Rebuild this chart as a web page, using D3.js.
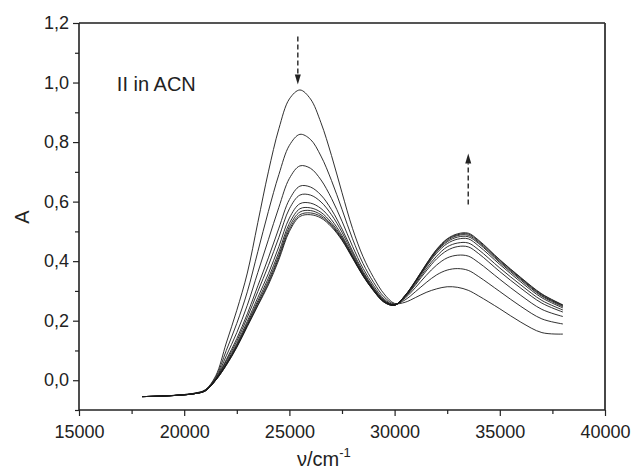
<!DOCTYPE html>
<html>
<head>
<meta charset="utf-8">
<script src="https://cdn.jsdelivr.net/npm/d3@7/dist/d3.min.js"></script>
<style>
  body { margin: 0; background: #fff; }
  svg { display: block; font-family: "Liberation Sans", Arial, sans-serif; }
</style>
</head>
<body>
<script>
const WIDTH = 631;
const HEIGHT = 472;
const LEFT = 79;
const RIGHT = 605;
const TOP = 23;
const BOTTOM = 410;

// wavenumber grid (cm-1) shared by every spectrum
const wavenumbers = [
  18000, 19000, 20000, 20500, 21000, 21500, 22000, 22500, 23000, 23500,
  24000, 24500, 25000, 25500, 26000, 26500, 27000, 27500, 28000, 28500,
  29000, 29500, 30000, 30500, 31000, 31500, 32000, 32500, 33000, 33500,
  34000, 35000, 36000, 37000, 38000
];

const run1 = [-0.055, -0.053, -0.048, -0.043, -0.032, 0.015, 0.125, 0.235, 0.360, 0.530,
  0.700, 0.845, 0.945, 0.975, 0.945, 0.865, 0.755, 0.630, 0.510, 0.415,
  0.345, 0.290, 0.258, 0.262, 0.278, 0.295, 0.307, 0.314, 0.312, 0.302,
  0.283, 0.240, 0.195, 0.160, 0.155];
const run2 = [-0.055, -0.053, -0.048, -0.044, -0.033, 0.010, 0.100, 0.191, 0.297, 0.432,
  0.567, 0.691, 0.789, 0.826, 0.809, 0.753, 0.671, 0.574, 0.475, 0.392,
  0.329, 0.280, 0.256, 0.270, 0.298, 0.328, 0.354, 0.370, 0.375, 0.369,
  0.348, 0.298, 0.248, 0.206, 0.189];
const run3 = [-0.055, -0.053, -0.049, -0.044, -0.034, 0.006, 0.082, 0.160, 0.252, 0.362,
  0.472, 0.581, 0.678, 0.720, 0.712, 0.673, 0.611, 0.534, 0.450, 0.376,
  0.318, 0.273, 0.254, 0.276, 0.312, 0.352, 0.387, 0.411, 0.420, 0.417,
  0.395, 0.339, 0.285, 0.238, 0.214];
const run4 = [-0.055, -0.053, -0.049, -0.045, -0.035, 0.004, 0.069, 0.140, 0.223, 0.317,
  0.411, 0.511, 0.607, 0.652, 0.649, 0.622, 0.573, 0.508, 0.434, 0.366,
  0.311, 0.269, 0.253, 0.279, 0.321, 0.367, 0.408, 0.436, 0.449, 0.448,
  0.425, 0.365, 0.309, 0.259, 0.229];
const run5 = [-0.055, -0.053, -0.049, -0.045, -0.035, 0.003, 0.064, 0.131, 0.211, 0.298,
  0.385, 0.480, 0.576, 0.622, 0.622, 0.599, 0.556, 0.497, 0.427, 0.361,
  0.308, 0.267, 0.253, 0.281, 0.325, 0.374, 0.417, 0.448, 0.461, 0.461,
  0.438, 0.377, 0.320, 0.268, 0.236];
const run6 = [-0.055, -0.053, -0.049, -0.045, -0.035, 0.002, 0.058, 0.123, 0.198, 0.278,
  0.358, 0.449, 0.545, 0.593, 0.595, 0.577, 0.539, 0.486, 0.420, 0.357,
  0.305, 0.265, 0.253, 0.283, 0.329, 0.381, 0.427, 0.459, 0.474, 0.475,
  0.451, 0.389, 0.330, 0.277, 0.243];
const run7 = [-0.055, -0.053, -0.049, -0.045, -0.036, 0.001, 0.055, 0.118, 0.191, 0.267,
  0.343, 0.431, 0.527, 0.576, 0.579, 0.564, 0.529, 0.480, 0.416, 0.354,
  0.303, 0.264, 0.252, 0.284, 0.332, 0.384, 0.432, 0.465, 0.481, 0.482,
  0.459, 0.395, 0.336, 0.282, 0.247];
const run8 = [-0.055, -0.053, -0.049, -0.045, -0.036, 0.001, 0.053, 0.114, 0.186, 0.260,
  0.333, 0.420, 0.516, 0.565, 0.570, 0.556, 0.523, 0.476, 0.414, 0.352,
  0.302, 0.263, 0.252, 0.284, 0.333, 0.387, 0.435, 0.469, 0.486, 0.487,
  0.463, 0.399, 0.340, 0.285, 0.250];
const run9 = [-0.055, -0.053, -0.049, -0.045, -0.036, 0.000, 0.051, 0.112, 0.183, 0.254,
  0.326, 0.412, 0.507, 0.556, 0.562, 0.550, 0.519, 0.472, 0.412, 0.351,
  0.301, 0.262, 0.252, 0.285, 0.334, 0.389, 0.438, 0.473, 0.489, 0.491,
  0.467, 0.403, 0.343, 0.288, 0.252];
const run10 = [-0.055, -0.053, -0.049, -0.045, -0.036, 0.000, 0.050, 0.110, 0.180, 0.250,
  0.320, 0.405, 0.500, 0.550, 0.556, 0.545, 0.515, 0.470, 0.410, 0.350,
  0.300, 0.262, 0.252, 0.285, 0.335, 0.390, 0.440, 0.475, 0.492, 0.494,
  0.470, 0.405, 0.345, 0.290, 0.253];

const runs = [run1, run2, run3, run4, run5, run6, run7, run8, run9, run10];

const xMajor = [15000, 20000, 25000, 30000, 35000, 40000];
const xMinor = [17500, 22500, 27500, 32500, 37500];
const yMajor = [0, 0.2, 0.4, 0.6, 0.8, 1.0, 1.2];
const yMinor = [-0.1, 0.1, 0.3, 0.5, 0.7, 0.9, 1.1];

// dashed arrows: position in cm-1, start and tip in absorbance
const arrowX = [25400, 33500];
const arrowFrom = [1.155, 0.59];
const arrowTo = [0.993, 0.762];

const svg = d3.select("body").append("svg")
  .attr("width", WIDTH)
  .attr("height", HEIGHT);

const x = d3.scaleLinear().domain([15000, 40000]).range([LEFT, RIGHT]);
const y = d3.scaleLinear().domain([-0.1, 1.2]).range([BOTTOM, TOP]);

const comma = (d) => d.toFixed(1).replace(".", ",");

const styleAxis = (g) => {
  g.select(".domain").remove();
  g.selectAll(".tick line").attr("stroke", "#222").attr("stroke-width", 1.2);
  g.selectAll(".tick text")
    .attr("fill", "#222")
    .attr("font-size", "18px")
    .attr("font-family", "Liberation Sans, Arial, sans-serif");
};

svg.append("g")
  .attr("transform", `translate(0,${BOTTOM})`)
  .call(d3.axisBottom(x).tickValues(xMajor).tickSize(6).tickPadding(9).tickFormat(d3.format("d")))
  .call(styleAxis);
svg.append("g")
  .attr("transform", `translate(0,${BOTTOM})`)
  .call(d3.axisBottom(x).tickValues(xMinor).tickSize(4).tickFormat(""))
  .call(styleAxis);
svg.append("g")
  .attr("transform", `translate(${LEFT},0)`)
  .call(d3.axisLeft(y).tickValues(yMajor).tickSize(6).tickPadding(4).tickFormat(comma))
  .call(styleAxis);
svg.append("g")
  .attr("transform", `translate(${LEFT},0)`)
  .call(d3.axisLeft(y).tickValues(yMinor).tickSize(4).tickFormat(""))
  .call(styleAxis);

// frame: top and right a bit lighter, like the scan
svg.append("line")
  .attr("x1", LEFT).attr("x2", RIGHT).attr("y1", TOP).attr("y2", TOP)
  .attr("stroke", "#555").attr("stroke-width", 2);
svg.append("line")
  .attr("x1", RIGHT).attr("x2", RIGHT).attr("y1", TOP).attr("y2", BOTTOM)
  .attr("stroke", "#333").attr("stroke-width", 1.8);
svg.append("line")
  .attr("x1", LEFT).attr("x2", LEFT).attr("y1", TOP).attr("y2", BOTTOM)
  .attr("stroke", "#222").attr("stroke-width", 1.6);
svg.append("line")
  .attr("x1", LEFT).attr("x2", RIGHT).attr("y1", BOTTOM).attr("y2", BOTTOM)
  .attr("stroke", "#222").attr("stroke-width", 1.6);

const line = d3.line()
  .x((d, i) => x(wavenumbers[i]))
  .y((d) => y(d))
  .curve(d3.curveCatmullRom.alpha(0.5));

svg.append("g")
  .selectAll("path")
  .data(runs)
  .join("path")
  .attr("d", line)
  .attr("fill", "none")
  .attr("stroke", "#1a1a1a")
  .attr("stroke-width", 0.9);

// arrows
const arrows = arrowX.map((v, i) => ({ v, from: arrowFrom[i], to: arrowTo[i] }));
const HEAD = 10;

svg.append("g")
  .selectAll("line")
  .data(arrows)
  .join("line")
  .attr("x1", (d) => x(d.v))
  .attr("x2", (d) => x(d.v))
  .attr("y1", (d) => y(d.from))
  .attr("y2", (d) => y(d.to) + (y(d.from) < y(d.to) ? -HEAD : HEAD))
  .attr("stroke", "#333")
  .attr("stroke-width", 1.5)
  .attr("stroke-dasharray", "5,3");

svg.append("g")
  .selectAll("path")
  .data(arrows)
  .join("path")
  .attr("d", (d) => {
    const tx = x(d.v);
    const ty = y(d.to);
    const dir = y(d.from) < y(d.to) ? -1 : 1;
    return `M${tx},${ty}L${tx - 3},${ty + dir * HEAD}L${tx + 3},${ty + dir * HEAD}Z`;
  })
  .attr("fill", "#222");

// labels
svg.append("text")
  .attr("x", x(16800))
  .attr("y", y(0.97))
  .attr("font-size", "20px")
  .attr("fill", "#222")
  .text("II in ACN");

svg.append("text")
  .attr("transform", "translate(29,217) rotate(-90)")
  .attr("text-anchor", "middle")
  .attr("font-size", "20px")
  .attr("fill", "#222")
  .text("A");

const xt = svg.append("text")
  .attr("x", 297)
  .attr("y", 466)
  .attr("font-size", "20px")
  .attr("fill", "#222");
xt.append("tspan").text("\u03bd/cm");
xt.append("tspan").attr("dy", -9).attr("font-size", "13px").text("-1");
</script>
</body>
</html>
